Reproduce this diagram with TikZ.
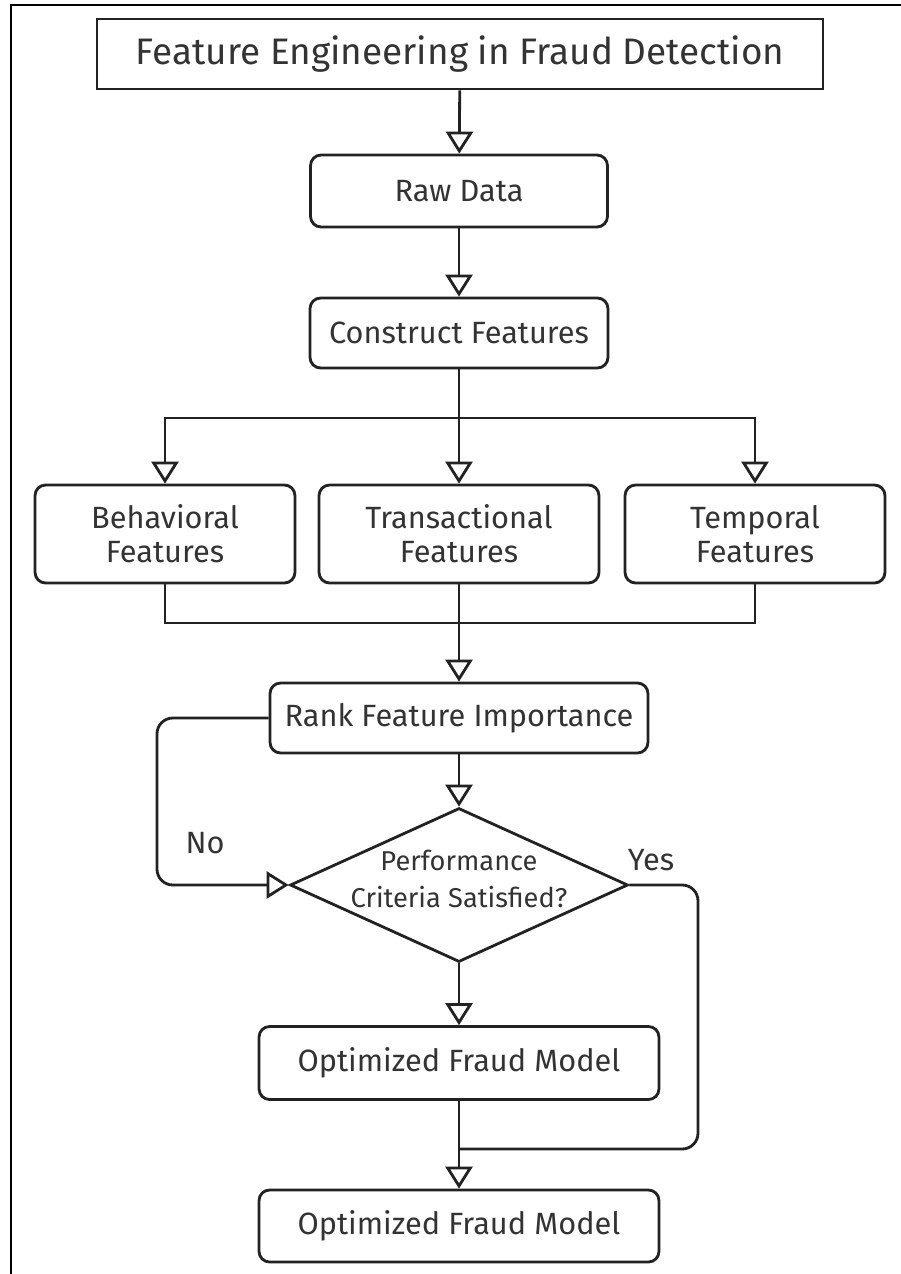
\documentclass[tikz,border=0pt]{standalone}
\usepackage{fontspec}
\setmainfont{Fira Sans}
\usetikzlibrary{arrows.meta,shapes.geometric}

\definecolor{linegray}{HTML}{222222}
\definecolor{textgray}{HTML}{333333}

\tikzset{
  box/.style={draw=linegray, line width=1.6pt, rounded corners=6pt,
    text=textgray, align=center, inner sep=0pt,
    font=\fontsize{17.5}{19.3}\selectfont},
  titlebox/.style={draw=linegray, line width=1.6pt, text=textgray,
    inner sep=0pt, font=\fontsize{21}{24}\selectfont},
  decision/.style={diamond, draw=linegray, line width=1.6pt, inner sep=0pt},
  flow/.style={draw=linegray, line width=1.6pt,
    -{Triangle[open, length=0.44cm, width=0.54cm, fill=white]}},
  link/.style={draw=linegray, line width=1.6pt},
  lbl/.style={text=textgray, inner sep=0pt, font=\fontsize{17.5}{19}\selectfont},
}

\begin{document}
\begin{tikzpicture}[x=0.02cm, y=-0.02cm]
  \useasboundingbox (0,0) rectangle (901,1274);
  % frame (cut off at right and bottom)
  \draw[draw=black, line width=1.2pt] (11,1274) -- (11,5) -- (901,5);

  % nodes
  \node[titlebox, minimum width=14.52cm, minimum height=1.40cm] (title) at (460,54)
    {Feature Engineering in Fraud Detection};
  \node[box, minimum width=5.94cm, minimum height=1.44cm] (raw) at (459,191) {Raw Data};
  \node[box, minimum width=5.96cm, minimum height=1.40cm] (construct) at (459,333)
    {Construct Features};

  \node[box, minimum width=5.2cm, minimum height=1.96cm] (behav) at (165,534)
    {Behavioral\\Features};
  \node[box, minimum width=5.6cm, minimum height=1.96cm] (trans) at (459,534)
    {Transactional\\Features};
  \node[box, minimum width=5.2cm, minimum height=1.96cm] (temp) at (755,534)
    {Temporal\\Features};

  \node[box, minimum width=7.56cm, minimum height=1.40cm] (rank) at (459,718)
    {Rank Feature Importance};
  \node[decision, minimum width=6.76cm, minimum height=3.08cm] (dec) at (459,885) {};
  \node[text=textgray, align=center, inner sep=0pt,
    font=\fontsize{15.5}{21}\selectfont] (dectext) at (459,879)
    {Performance\\Criteria Satisfied?};

  \node[box, minimum width=8.0cm, minimum height=1.46cm] (opt1) at (459,1063)
    {Optimized Fraud Model};
  \node[box, minimum width=8.0cm, minimum height=1.44cm] (opt2) at (459,1226)
    {Optimized Fraud Model};

  % helper points
  \coordinate (split) at (459,418);
  \coordinate (merge) at (459,623);
  \coordinate (nocorner) at (157,885);
  \coordinate (yescorner) at (698,1149);
  \coordinate (join) at (459,1149);

  % connectors
  \draw[flow] (title) -- (raw);
  \draw[flow] (raw) -- (construct);
  \draw[link] (construct) -- (split);
  \draw[flow] (split) -| (behav.north);
  \draw[flow] (split) -- (trans);
  \draw[flow] (split) -| (temp.north);

  \draw[link] (behav.south) |- (merge);
  \draw[link] (temp.south) |- (merge);
  \draw[flow] (trans) -- (rank);
  \draw[flow] (rank) -- (dec.north);

  \draw[flow, rounded corners=9pt] (rank.west) -| (nocorner) -- (dec.west);
  \draw[flow] (dec.south) -- (opt1);
  \draw[link, rounded corners=9pt] (dec.east) -| (yescorner) -- (join);
  \draw[flow] (opt1) -- (opt2);

  \node[lbl] (nolabel) at (205,843) {No};
  \node[lbl] (yeslabel) at (651,860) {Yes};
\end{tikzpicture}
\end{document}
